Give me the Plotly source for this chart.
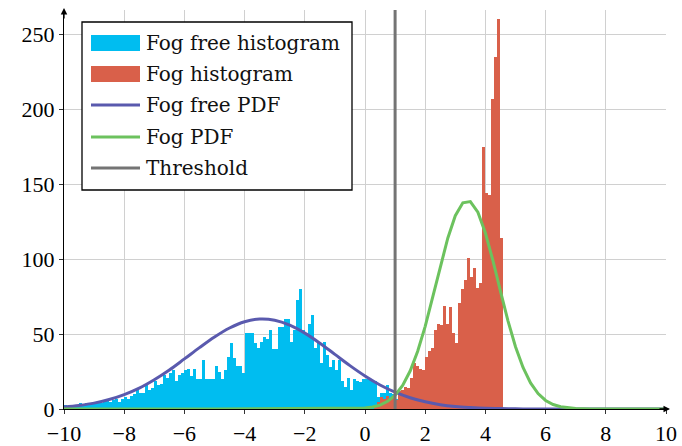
import numpy as np
import plotly.graph_objects as go

# ---------------- data ----------------
fogfree_start = -10.0
fog_start = 0.3
bin_width = 0.1
fogfree_counts = [3, 2, 3, 3, 3, 4, 3, 4, 3, 4, 5, 4, 4, 5, 6, 5, 6, 7, 5, 7,
                  8, 7, 9, 10, 13, 11, 11, 16, 13, 14, 19, 16, 17, 23, 21, 24, 26, 19, 23, 24,
                  26, 27, 22, 27, 20, 20, 33, 20, 20, 20, 29, 25, 20, 26, 35, 44, 34, 29, 29, 24,
                  51, 51, 51, 44, 41, 45, 48, 47, 53, 40, 40, 55, 55, 60, 60, 45, 53, 73, 80, 53,
                  50, 57, 63, 41, 45, 31, 45, 36, 28, 33, 26, 33, 19, 15, 21, 13, 20, 19, 18, 20,
                  20, 20, 19, 19, 8, 11, 11, 16, 11, 10, 7, 3]
fog_counts = [3, 5, 8, 7, 9, 7, 8, 6, 12, 13, 15, 14, 21, 31, 29, 27, 26, 35, 39, 41,
              53, 57, 56, 69, 57, 68, 51, 44, 71, 80, 86, 101, 88, 94, 81, 84, 175, 144, 143, 207,
              235, 260, 114]

pdf_free_x = [-10, -9.5, -9, -8.5, -8, -7.5, -7, -6.5, -6, -5.5, -5, -4.5, -4, -3.5, -3,
              -2.5, -2, -1.5, -1, -0.5, 0, 0.5, 1, 1.5, 2, 2.5, 3, 3.5, 4, 4.5, 5, 5.5, 6,
              7, 8, 9, 10]
pdf_free_y = [1.4, 2.4, 3.9, 6.3, 9.6, 13.9, 19.5, 26.0, 33.4, 40.9, 48.0, 54.0, 58.2, 60.0, 59.2,
              55.9, 50.6, 43.9, 36.4, 28.9, 22.0, 16.0, 11.2, 7.5, 4.8, 2.9, 1.7, 1.0, 0.5, 0.3, 0.1, 0.05, 0,
              0, 0, 0, 0]

pdf_fog_x = [-10, -5, 0, 0.25, 0.5, 0.75, 1.0, 1.25, 1.5, 1.75, 2.0, 2.25, 2.5, 2.75, 3.0, 3.25,
             3.5, 3.75, 4.0, 4.25, 4.5, 4.75, 5.0, 5.25, 5.5, 5.75, 6.0, 6.25, 6.5, 6.75, 7.0, 7.5,
             8, 10]
pdf_fog_y = [0, 0, 0.6, 1.3, 2.6, 5.1, 9.2, 15.7, 25.3, 38.5, 55.1, 74.5, 94.9, 113.9, 128.9, 137.5,
             138.3, 131.2, 117.3, 98.9, 78.6, 58.8, 41.5, 27.7, 17.4, 10.3, 5.7, 3.0, 1.5, 0.7, 0.3, 0.05,
             0, 0]

threshold = 1.0

legend_labels = ["Fog free histogram", "Fog histogram", "Fog free PDF", "Fog PDF", "Threshold"]
x_ticks = [-10, -8, -6, -4, -2, 0, 2, 4, 6, 8, 10]
y_ticks = [0, 50, 100, 150, 200, 250]

# ---------------- styles ----------------
C_FREE = "#00BDF0"
C_FOG = "#D9604A"
C_FREEPDF = "#5A5AAE"
C_FOGPDF = "#6CC25E"
C_THR = "#747474"
TICKFONT = "Liberation Serif, DejaVu Serif, serif"
LEGFONT = "DejaVu Serif, Liberation Serif, serif"

W, H = 682, 446
ML, MR, MT, MB = 64, 16, 10, 37
PW, PH = W - ML - MR, H - MT - MB
YMAX = 266


def px(xp):
    return (xp - ML) / PW


def py(yp):
    return (H - MB - yp) / PH


free_centers = fogfree_start + bin_width * (np.arange(len(fogfree_counts)) + 0.5)
fog_centers = fog_start + bin_width * (np.arange(len(fog_counts)) + 0.5)

fig = go.Figure()
fig.add_trace(go.Bar(x=free_centers, y=fogfree_counts, width=bin_width, marker_color=C_FREE,
                     marker_line_width=0, name=legend_labels[0], showlegend=False))
fig.add_trace(go.Bar(x=fog_centers, y=fog_counts, width=bin_width, marker_color=C_FOG,
                     marker_line_width=0, name=legend_labels[1], showlegend=False))
fig.add_trace(go.Scatter(x=pdf_free_x, y=pdf_free_y, mode="lines", line=dict(color=C_FREEPDF, width=3, shape="spline"),
                         name=legend_labels[2], showlegend=False))
fig.add_trace(go.Scatter(x=pdf_fog_x, y=pdf_fog_y, mode="lines", line=dict(color=C_FOGPDF, width=3),
                         name=legend_labels[3], showlegend=False))
fig.add_trace(go.Scatter(x=[threshold, threshold], y=[0, YMAX], mode="lines", line=dict(color=C_THR, width=3),
                         name=legend_labels[4], showlegend=False, cliponaxis=False))

axis_common = dict(showgrid=True, gridcolor="#d0d0d0", gridwidth=1.3, automargin=False,
                   zeroline=False, showline=True, linecolor="black", linewidth=1.3,
                   ticks="outside", ticklen=4, tickcolor="#333",
                   tickfont=dict(family=TICKFONT, size=22, color="black"))
fig.update_layout(
    width=W, height=H, margin=dict(l=ML, r=MR, t=MT, b=MB, autoexpand=False),
    paper_bgcolor="white", plot_bgcolor="white",
    barmode="overlay", bargap=0,
    font=dict(family=TICKFONT, size=22, color="black"),
    xaxis=dict(range=[-10, 10], tickvals=x_ticks, **axis_common),
    yaxis=dict(range=[0, YMAX], tickvals=y_ticks, **axis_common),
)

# axis arrows
fig.add_annotation(x=px(670), y=0, xref="paper", yref="paper", ax=-12, ay=0, showarrow=True,
                   arrowhead=2, arrowsize=1, arrowwidth=1.3, arrowcolor="black", text="")
fig.add_annotation(x=0, y=py(8), xref="paper", yref="paper", ax=0, ay=12, showarrow=True,
                   arrowhead=2, arrowsize=1, arrowwidth=1.3, arrowcolor="black", text="")

# manual legend
shapes = [dict(type="rect", xref="paper", yref="paper", x0=px(82), x1=px(352), y0=py(190), y1=py(22),
               line=dict(color="black", width=1.3), fillcolor="white", layer="above")]
rows = [43, 74, 105, 137, 168]
colors = [C_FREE, C_FOG, C_FREEPDF, C_FOGPDF, C_THR]
for i, (yc, col, lab) in enumerate(zip(rows, colors, legend_labels)):
    if i < 2:
        shapes.append(dict(type="rect", xref="paper", yref="paper", x0=px(91), x1=px(140),
                           y0=py(yc + 8), y1=py(yc - 8), line=dict(width=0), fillcolor=col, layer="above"))
    else:
        shapes.append(dict(type="line", xref="paper", yref="paper", x0=px(91), x1=px(140),
                           y0=py(yc), y1=py(yc), line=dict(color=col, width=3), layer="above"))
    fig.add_annotation(x=px(144), y=py(yc), xref="paper", yref="paper", text=lab, showarrow=False,
                       xanchor="left", yanchor="middle", font=dict(family=LEGFONT, size=20, color="#111"))
fig.update_layout(shapes=shapes)

fig.write_html("out.html")
